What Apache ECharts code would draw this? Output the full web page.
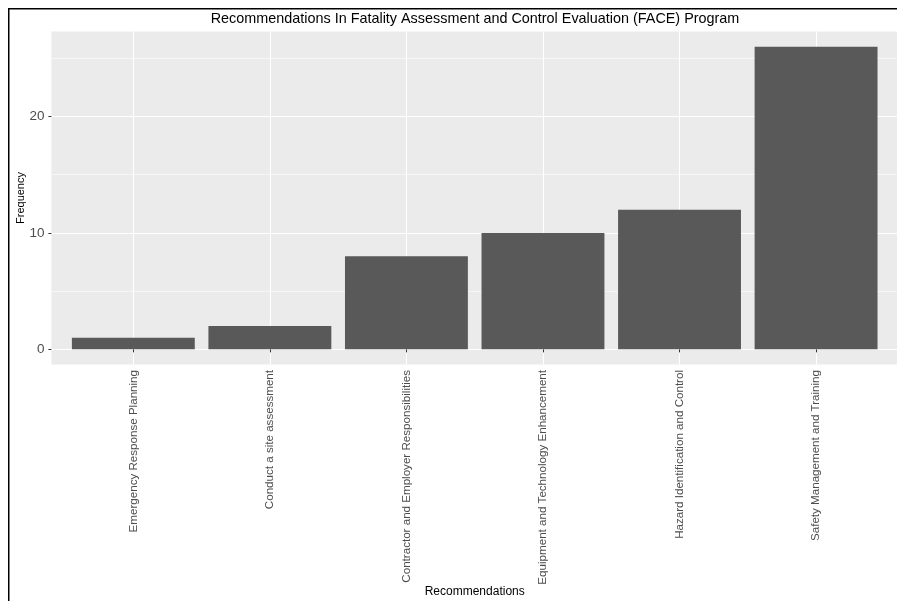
<!DOCTYPE html>
<html>
<head>
<meta charset="utf-8">
<script src="https://cdn.jsdelivr.net/npm/echarts@6/dist/echarts.min.js"></script>
<style>
html,body{margin:0;padding:0;background:#ffffff;}
#chart{width:897px;height:601px;}
</style>
</head>
<body>
<div id="chart"></div>
<script>
const chartTitle = 'Recommendations In Fatality Assessment and Control Evaluation (FACE) Program';
const categories = [
  'Emergency Response Planning',
  'Conduct a site assessment',
  'Contractor and Employer Responsibilities',
  'Equipment and Technology Enhancement',
  'Hazard Identification and Control',
  'Safety Management and Training'
];
const frequencies = [1, 2, 8, 10, 12, 26];
const yTickValues = [0, 10, 20];
const xAxisTitle = 'Recommendations';
const yAxisTitle = 'Frequency';

const xPositions = categories.map((c, i) => i + 1);
const barData = xPositions.map((x, i) => [x, frequencies[i]]);

const FONT = 'Liberation Sans, Arial, Helvetica, sans-serif';

const chart = echarts.init(document.getElementById('chart'), null, {renderer: 'canvas'});
chart.setOption({
  animation: false,
  backgroundColor: '#ffffff',
  textStyle: {fontFamily: FONT},
  title: {
    text: chartTitle,
    left: 475,
    top: 12,
    textAlign: 'center',
    padding: 0,
    textStyle: {fontSize: 14.4, fontWeight: 'normal', color: '#000000', fontFamily: FONT}
  },
  graphic: [{
    type: 'rect',
    silent: true,
    z: -10,
    shape: {x: 8.75, y: 8.75, width: 1200, height: 1200},
    style: {fill: 'none', stroke: '#000000', lineWidth: 1.5}
  }],
  grid: {
    left: 51.4,
    top: 31.5,
    width: 846.6,
    height: 333,
    show: true,
    backgroundColor: '#EBEBEB',
    borderWidth: 0,
    containLabel: false,
    outerBoundsMode: 'none'
  },
  xAxis: {
    type: 'value',
    min: 0.4,
    max: 6.6,
    minInterval: 1,
    maxInterval: 1,
    name: xAxisTitle,
    nameLocation: 'middle',
    nameGap: 221.5,
    nameMoveOverlap: false,
    nameTextStyle: {color: '#000000', fontSize: 12, fontFamily: FONT},
    axisLine: {show: false},
    axisTick: {show: true, length: 3, lineStyle: {color: '#333333', width: 1}, customValues: xPositions},
    axisLabel: {
      rotate: 90,
      fontSize: 11.6,
      color: '#4D4D4D',
      margin: 5.5,
      fontFamily: FONT,
      customValues: xPositions,
      formatter: function (v) { return categories[v - 1] || ''; }
    },
    splitLine: {show: true, lineStyle: {color: '#ffffff', width: 1.1}}
  },
  yAxis: {
    type: 'value',
    min: -1.3,
    max: 27.3,
    minInterval: 10,
    maxInterval: 10,
    name: yAxisTitle,
    nameLocation: 'middle',
    nameGap: 25,
    nameRotate: 90,
    nameMoveOverlap: false,
    nameTextStyle: {color: '#000000', fontSize: 11, fontFamily: FONT},
    axisLine: {show: false},
    axisTick: {show: true, length: 3, lineStyle: {color: '#333333', width: 1}, customValues: yTickValues},
    axisLabel: {
      color: '#4D4D4D',
      fontSize: 13.5,
      margin: 7,
      fontFamily: FONT,
      customValues: yTickValues,
      formatter: function (v) { return yTickValues.indexOf(v) >= 0 ? String(v) : ''; }
    },
    splitLine: {show: true, lineStyle: {color: '#ffffff', width: 1.1}},
    minorTick: {show: false, splitNumber: 2},
    minorSplitLine: {show: true, lineStyle: {color: '#ffffff', width: 0.55}}
  },
  series: [{
    type: 'bar',
    data: barData,
    barWidth: '90%',
    itemStyle: {color: '#595959'},
    silent: true,
    emphasis: {disabled: true}
  }]
});
</script>
</body>
</html>
